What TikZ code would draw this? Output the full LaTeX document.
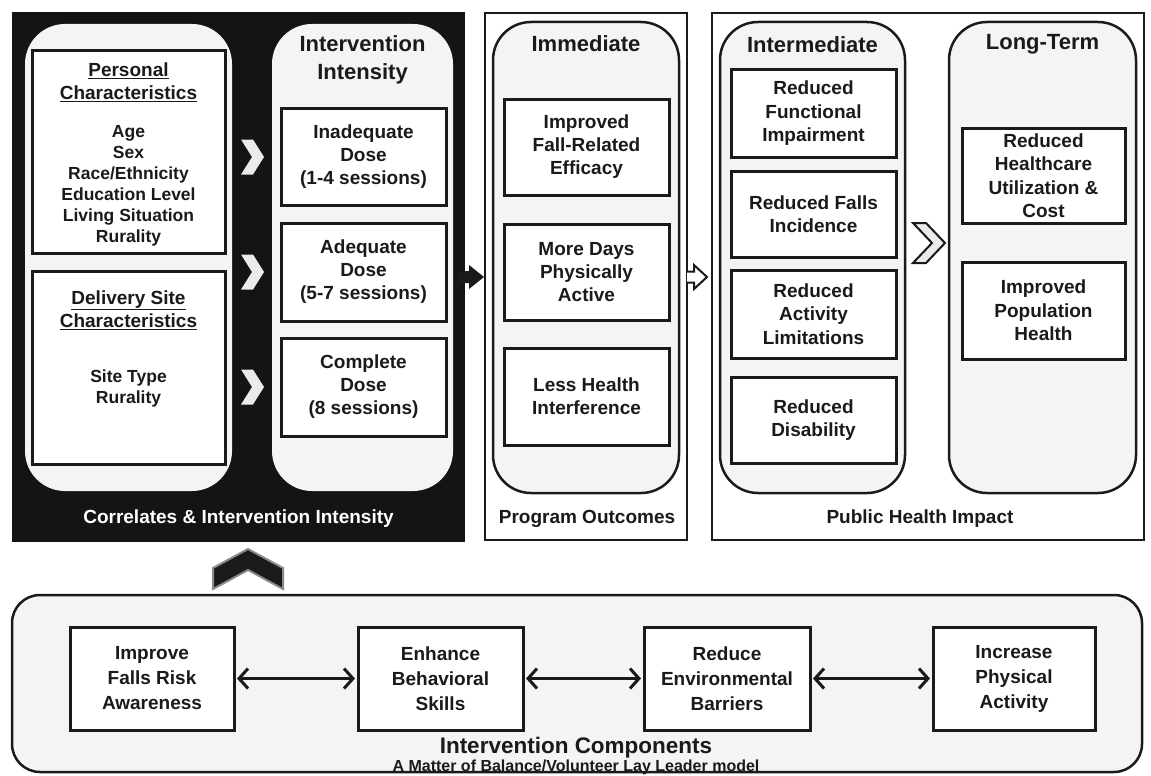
\documentclass[tikz,border=0pt]{standalone}
\usepackage{fontspec}
\setmainfont{Liberation Sans}
\usetikzlibrary{arrows.meta}
\definecolor{ink}{HTML}{1A1A1A}
\definecolor{darkbg}{HTML}{141414}
\definecolor{panelgray}{HTML}{F4F4F4}
\definecolor{chevfill}{HTML}{EBEBEB}
\definecolor{chevedge}{HTML}{8A8A8A}
\newcommand\boxfnt{\bfseries\fontsize{19}{23}\selectfont}
\newcommand\rboxfnt{\bfseries\fontsize{19}{23.5}\selectfont}
\newcommand\bboxfnt{\bfseries\fontsize{19}{25}\selectfont}
\newcommand\itemfnt{\bfseries\fontsize{17.5}{21}\selectfont}
\newcommand\titlefnt{\bfseries\fontsize{22}{28}\selectfont}
\newcommand\labfnt{\bfseries\fontsize{19}{23}\selectfont}
\begin{document}
\begin{tikzpicture}[x=1pt,y=-1pt,
  outerpanel/.style={draw=ink, line width=2.5pt, fill=white, inner sep=0pt},
  darkpanel/.style={fill=darkbg, inner sep=0pt},
  roundpanel/.style={draw=ink, line width=2.5pt, fill=panelgray, rounded corners=38pt, inner sep=0pt},
  innerpanel/.style={fill=panelgray, rounded corners=40pt, inner sep=0pt},
  box/.style={draw=ink, line width=3pt, fill=white, inner sep=0pt, align=center, text=ink, font=\boxfnt},
  rbox/.style={box, font=\rboxfnt},
  bbox/.style={box, font=\bboxfnt},
  ptitle/.style={align=center, text=ink, font=\titlefnt, inner sep=0pt},
  plabel/.style={align=center, text=ink, font=\labfnt, inner sep=0pt},
  hdr/.style={align=center, text=ink, font=\boxfnt, inner sep=0pt},
  items/.style={align=center, text=ink, font=\itemfnt, inner sep=0pt},
  biarrow/.style={draw=ink, line width=3pt, shorten <=1.5pt, shorten >=1.5pt,
    {Straight Barb[length=9pt,width=20pt]}-{Straight Barb[length=9pt,width=20pt]}},
  chevron/.pic={\fill[chevfill] (-11.5,-17.5) -- (0.5,-17.5) -- (11.5,0) -- (0.5,17.5) -- (-11.5,17.5) -- (-0.5,0) -- cycle;}
]
\useasboundingbox (0,0) rectangle (1151,776);

% ---------- outer panels ----------
\node[darkpanel, minimum width=453pt, minimum height=530pt] (dark) at (238.5,277) {};
\node[outerpanel, minimum width=202pt, minimum height=527pt] (prog) at (586,276.5) {};
\node[outerpanel, minimum width=432pt, minimum height=527pt] (phi) at (928,276.5) {};
\node[roundpanel, rounded corners=28pt, minimum width=1130pt, minimum height=177pt] (bottom) at (577,683.5) {};

% ---------- inner rounded panels ----------
\node[innerpanel, minimum width=207pt, minimum height=467pt] (pcpanel) at (128.5,257.5) {};
\node[innerpanel, minimum width=181pt, minimum height=467pt] (iipanel) at (362.5,257.5) {};
\node[roundpanel, minimum width=186pt, minimum height=471pt] (immpanel) at (586,257.5) {};
\node[roundpanel, minimum width=185pt, minimum height=471pt] (intpanel) at (812.5,257.5) {};
\node[roundpanel, minimum width=187pt, minimum height=471pt] (ltpanel) at (1042.5,257.5) {};

% ---------- left: correlates ----------
\node[box, minimum width=193pt, minimum height=202pt] (pers) at (128.5,152) {};
\node[hdr] (persh) at (128.5,82.5) {\underline{Personal}\\\underline{Characteristics}};
\node[items] (persi) at (128.5,185.5) {Age\\Sex\\Race/Ethnicity\\Education Level\\Living Situation\\Rurality};
\node[box, minimum width=193pt, minimum height=193pt] (deliv) at (128.5,367.5) {};
\node[hdr] (delivh) at (128.5,310) {\underline{Delivery Site}\\\underline{Characteristics}};
\node[items] (delivi) at (128.5,388) {Site Type\\Rurality};

\node[ptitle] (iititle) at (362.5,60) {Intervention\\Intensity};
\node[box, minimum width=165pt, minimum height=97pt] (inad) at (363.5,156.5) {Inadequate\\Dose\\(1-4 sessions)};
\node[box, minimum width=165pt, minimum height=98pt] (adeq) at (363.5,272) {Adequate\\Dose\\(5-7 sessions)};
\node[box, minimum width=165pt, minimum height=98pt] (comp) at (363.5,387) {Complete\\Dose\\(8 sessions)};
\node[plabel, text=white] (darklab) at (238.5,518.5) {Correlates \& Intervention Intensity};

\pic at (252.5,157) {chevron};
\pic at (252.5,272) {chevron};
\pic at (252.5,387) {chevron};

% ---------- program outcomes ----------
\node[ptitle] (immtitle) at (586,44) {Immediate};
\node[box, minimum width=165pt, minimum height=96pt] (impr) at (586.5,147) {Improved\\Fall-Related\\Efficacy};
\node[box, minimum width=165pt, minimum height=96pt] (more) at (586.5,272) {More Days\\Physically\\Active};
\node[box, minimum width=165pt, minimum height=97pt] (less) at (586.5,396.5) {Less Health\\Interference};
\node[plabel] (proglab) at (587,518.5) {Program Outcomes};

% ---------- public health impact ----------
\node[ptitle] (inttitle) at (812.5,44.5) {Intermediate};
\node[rbox, minimum width=165pt, minimum height=87pt] (func) at (813.5,113.5) {Reduced\\Functional\\Impairment};
\node[rbox, minimum width=165pt, minimum height=86pt] (falls) at (813.5,214) {Reduced Falls\\Incidence};
\node[rbox, minimum width=165pt, minimum height=88pt] (act) at (813.5,314) {Reduced\\Activity\\Limitations};
\node[rbox, minimum width=165pt, minimum height=86pt] (dis) at (813.5,420) {Reduced\\Disability};

\node[ptitle] (lttitle) at (1042.5,44.5) {Long-Term};
\node[rbox, minimum width=163pt, minimum height=95pt] (hc) at (1043.5,175.5) {Reduced\\Healthcare\\Utilization \&\\Cost};
\node[rbox, minimum width=163pt, minimum height=97pt] (pop) at (1043.5,310.5) {Improved\\Population\\Health};
\node[plabel] (philab) at (920,518.5) {Public Health Impact};

% ---------- flow arrows ----------
\fill[ink] (458,271) -- (469,271) -- (469,265) -- (484,277) -- (469,289) -- (469,283) -- (458,283) -- cycle;
\draw[draw=ink, line width=2pt, fill=white, line join=miter] (687,271.5) -- (694,271.5) -- (694,265) -- (707,277) -- (694,289) -- (694,282.5) -- (687,282.5);
\draw[draw=ink, line width=2pt, fill=chevfill, line join=miter] (913,223) -- (926,223) -- (945,243) -- (926,263) -- (913,263) -- (932,243) -- cycle;
\filldraw[fill=ink, draw=chevedge, line width=2pt, line join=miter] (213,568) -- (248,549) -- (283,568) -- (283,589) -- (248,570) -- (213,589) -- cycle;

% ---------- intervention components ----------
\node[bbox, minimum width=164pt, minimum height=103pt] (impv) at (152,678.5) {Improve\\Falls Risk\\Awareness};
\node[bbox, minimum width=165pt, minimum height=103pt] (enh) at (440.5,678.5) {Enhance\\Behavioral\\Skills};
\node[bbox, minimum width=166pt, minimum height=103pt] (red) at (727,678.5) {Reduce\\Environmental\\Barriers};
\node[bbox, minimum width=162pt, minimum height=103pt] (inc) at (1014,678.5) {Increase\\Physical\\Activity};
\draw[biarrow] (impv) -- (enh);
\draw[biarrow] (enh) -- (red);
\draw[biarrow] (red) -- (inc);
\node[align=center, text=ink, inner sep=0pt, font=\bfseries\fontsize{22.5}{26}\selectfont] (comptitle) at (576,748) {Intervention Components};
\node[align=center, text=ink, inner sep=0pt, font=\bfseries\fontsize{16}{19}\selectfont] (compsub) at (576,767.5) {A Matter of Balance/Volunteer Lay Leader model};
\end{tikzpicture}
\end{document}
